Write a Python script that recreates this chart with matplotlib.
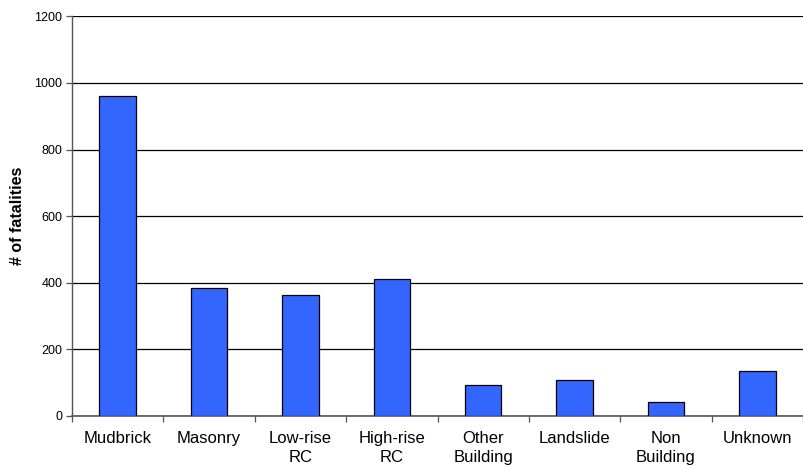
import numpy as np
import matplotlib.pyplot as plt

categories = ["Mudbrick", "Masonry", "Low-rise\nRC", "High-rise\nRC",
              "Other\nBuilding", "Landslide", "Non\nBuilding", "Unknown"]
fatalities = [961, 383, 363, 410, 92, 107, 43, 134]

plt.rcParams['font.family'] = ['Liberation Sans', 'DejaVu Sans']

fig = plt.figure(figsize=(8.04, 4.68), dpi=100)
ax = fig.add_axes([72 / 804, 52 / 468, 731 / 804, 399.7 / 468])

x = np.arange(len(categories))
ax.bar(x, fatalities, width=0.4, color='#3366FF', edgecolor='black',
       linewidth=0.9, zorder=3)

ax.set_xlim(-0.5, len(categories) - 0.5)
ax.set_ylim(0, 1200)
ax.set_yticks(np.arange(0, 1201, 200))
ax.yaxis.grid(True, color='black', linewidth=0.9, zorder=0)

# ticks between categories, labels centred under bars
ax.set_xticks(np.arange(-0.5, len(categories), 1.0))
ax.set_xticklabels([])
ax.set_xticks(x, minor=True)
ax.set_xticklabels(categories, minor=True, fontsize=12, linespacing=1.35,
                   va='top')
ax.tick_params(axis='x', which='minor', length=0, pad=11)
ax.tick_params(axis='x', which='major', length=4, width=0.9, color='#555555')
ax.tick_params(axis='y', length=4, width=0.9, labelsize=9, pad=3, color='#555555')

for s in ['top', 'right']:
    ax.spines[s].set_visible(False)
ax.spines['left'].set_color('#555555')
ax.spines['bottom'].set_color('#555555')
ax.spines['left'].set_linewidth(1.0)
ax.spines['bottom'].set_linewidth(1.2)

fig.text(18 / 804, 1 - 216 / 468, "# of fatalities", rotation=90,
         ha='center', va='center', fontsize=11.5, fontweight='bold')

fig.savefig("out.png", dpi=100)
